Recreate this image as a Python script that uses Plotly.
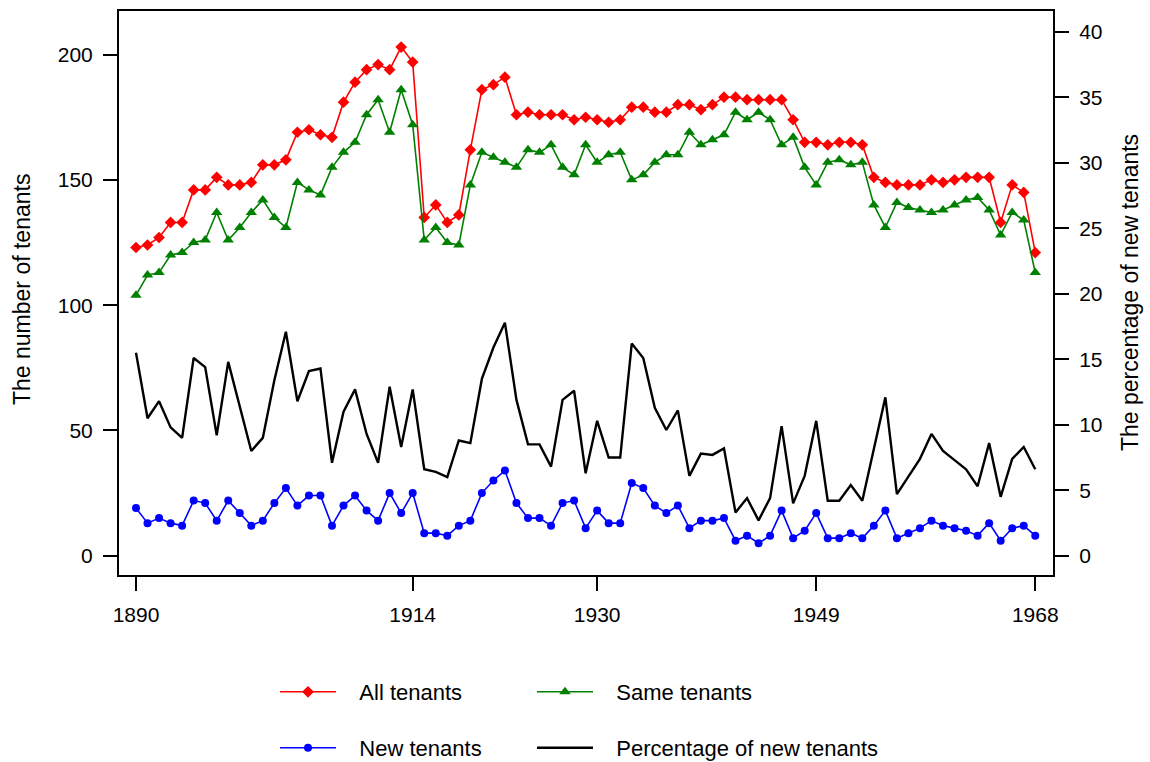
import plotly.graph_objects as go

years = [1890, 1891, 1892, 1893, 1894, 1895, 1896, 1897, 1898, 1899,
         1900, 1901, 1902, 1903, 1904, 1905, 1906, 1907, 1908, 1909,
         1910, 1911, 1912, 1913, 1914, 1915, 1916, 1917, 1918, 1919,
         1920, 1921, 1922, 1923, 1924, 1925, 1926, 1927, 1928, 1929,
         1930, 1931, 1932, 1933, 1934, 1935, 1936, 1937, 1938, 1939,
         1940, 1941, 1942, 1943, 1944, 1945, 1946, 1947, 1948, 1949,
         1950, 1951, 1952, 1953, 1954, 1955, 1956, 1957, 1958, 1959,
         1960, 1961, 1962, 1963, 1964, 1965, 1966, 1967, 1968]

all_tenants = [123, 124, 127, 133, 133, 146, 146, 151, 148, 148,
               149, 156, 156, 158, 169, 170, 168, 167, 181, 189,
               194, 196, 194, 203, 197, 135, 140, 133, 136, 162,
               186, 188, 191, 176, 177, 176, 176, 176, 174, 175,
               174, 173, 174, 179, 179, 177, 177, 180, 180, 178,
               180, 183, 183, 182, 182, 182, 182, 174, 165, 165,
               164, 165, 165, 164, 151, 149, 148, 148, 148, 150,
               149, 150, 151, 151, 151, 133, 148, 145, 121]

same_tenants = [104, 112, 113, 120, 121, 125, 126, 137, 126, 131,
                137, 142, 135, 131, 149, 146, 144, 155, 161, 165,
                176, 182, 169, 186, 172, 126, 131, 125, 124, 148,
                161, 159, 157, 155, 162, 161, 164, 155, 152, 164,
                157, 160, 161, 150, 152, 157, 160, 160, 169, 164,
                166, 168, 177, 174, 177, 174, 164, 167, 155, 148,
                157, 158, 156, 157, 140, 131, 141, 139, 138, 137,
                138, 140, 142, 143, 138, 128, 137, 134, 113]

new_tenants = [19, 13, 15, 13, 12, 22, 21, 14, 22, 17,
               12, 14, 21, 27, 20, 24, 24, 12, 20, 24,
               18, 14, 25, 17, 25, 9, 9, 8, 12, 14,
               25, 30, 34, 21, 15, 15, 12, 21, 22, 11,
               18, 13, 13, 29, 27, 20, 17, 20, 11, 14,
               14, 15, 6, 8, 5, 8, 18, 7, 10, 17,
               7, 7, 9, 7, 12, 18, 7, 9, 11, 14,
               12, 11, 10, 8, 13, 6, 11, 12, 8]

pct_new = [15.5, 10.5, 11.8, 9.8, 9.0, 15.1, 14.4, 9.2, 14.8, 11.4,
           8.0, 9.0, 13.4, 17.1, 11.8, 14.1, 14.3, 7.1, 11.0, 12.7,
           9.3, 7.1, 12.9, 8.3, 12.7, 6.6, 6.4, 6.0, 8.8, 8.6,
           13.5, 15.9, 17.8, 11.9, 8.5, 8.5, 6.8, 11.9, 12.6, 6.3,
           10.3, 7.5, 7.5, 16.2, 15.1, 11.3, 9.6, 11.1, 6.1, 7.8,
           7.7, 8.2, 3.3, 4.4, 2.7, 4.4, 9.9, 4.0, 6.1, 10.3,
           4.2, 4.2, 5.4, 4.2, 8.2, 12.1, 4.7, 6.1, 7.4, 9.3,
           8.0, 7.3, 6.6, 5.3, 8.6, 4.5, 7.4, 8.3, 6.6]

x_ticks = [1890, 1914, 1930, 1949, 1968]
left_ticks = [0, 50, 100, 150, 200]
right_ticks = [0, 5, 10, 15, 20, 25, 30, 35, 40]

FONT = "Liberation Sans, Arial, sans-serif"
W, H = 1150, 762
PAD = "\u00a0\u00a0\u00a0"

fig = go.Figure()
fig.add_trace(go.Scatter(x=years, y=all_tenants, name=PAD + "All tenants", mode="lines+markers",
                         line=dict(color="#FF0000", width=1.6),
                         marker=dict(symbol="diamond", size=9, color="#FF0000"),
                         legend="legend"))
fig.add_trace(go.Scatter(x=years, y=same_tenants, name=PAD + "Same tenants", mode="lines+markers",
                         line=dict(color="#008000", width=1.6),
                         marker=dict(symbol="triangle-up", size=10, color="#008000"),
                         legend="legend2"))
fig.add_trace(go.Scatter(x=years, y=new_tenants, name=PAD + "New tenants", mode="lines+markers",
                         line=dict(color="#0000FF", width=1.6),
                         marker=dict(symbol="circle", size=8, color="#0000FF"),
                         legend="legend3"))
fig.add_trace(go.Scatter(x=years, y=pct_new, name=PAD + "Percentage of new tenants", mode="lines",
                         line=dict(color="#000000", width=2.4),
                         yaxis="y2", legend="legend4"))

axis_common = dict(showline=True, linecolor="black", linewidth=2, ticks="outside",
                   ticklen=14, tickwidth=1.6, tickcolor="black", showgrid=False,
                   zeroline=False, automargin=False,
                   tickfont=dict(family=FONT, size=21, color="black"))


def leg(px_x, px_y):
    return dict(orientation="h", xref="container", yref="container",
                x=px_x / W, y=1 - px_y / H, xanchor="left", yanchor="middle",
                font=dict(family=FONT, size=22, color="black"), itemwidth=56,
                bgcolor="rgba(0,0,0,0)", borderwidth=0)


fig.update_layout(
    width=W, height=H,
    margin=dict(l=119, r=97, t=11, b=187, autoexpand=False),
    plot_bgcolor="white", paper_bgcolor="white",
    font=dict(family=FONT, size=21, color="black"),
    showlegend=True,
    xaxis=dict(range=[1888.525, 1969.54], tickvals=x_ticks, mirror=True,
               ticklabelstandoff=6, **axis_common),
    yaxis=dict(range=[-7.7, 217.4], tickvals=left_ticks, ticklabelstandoff=6,
               **axis_common),
    yaxis2=dict(range=[-1.473, 41.6], tickvals=right_ticks, overlaying="y", side="right",
                ticklabelstandoff=6, **axis_common),
    legend=leg(275, 692),
    legend2=leg(532, 692),
    legend3=leg(275, 748),
    legend4=leg(532, 748),
    annotations=[
        dict(text="The number of tenants", xref="paper", yref="paper",
             x=(22 - 119) / 934, y=(575 - 290) / 564, xanchor="center", yanchor="middle",
             textangle=-90, showarrow=False, font=dict(family=FONT, size=23, color="black")),
        dict(text="The percentage of new tenants", xref="paper", yref="paper",
             x=(1130 - 119) / 934, y=(575 - 293) / 564, xanchor="center", yanchor="middle",
             textangle=-90, showarrow=False, font=dict(family=FONT, size=23, color="black")),
    ],
)

fig.write_html("out.html", config={"displayModeBar": False},
               post_script="document.body.style.margin='0';document.body.style.overflow='hidden';")
